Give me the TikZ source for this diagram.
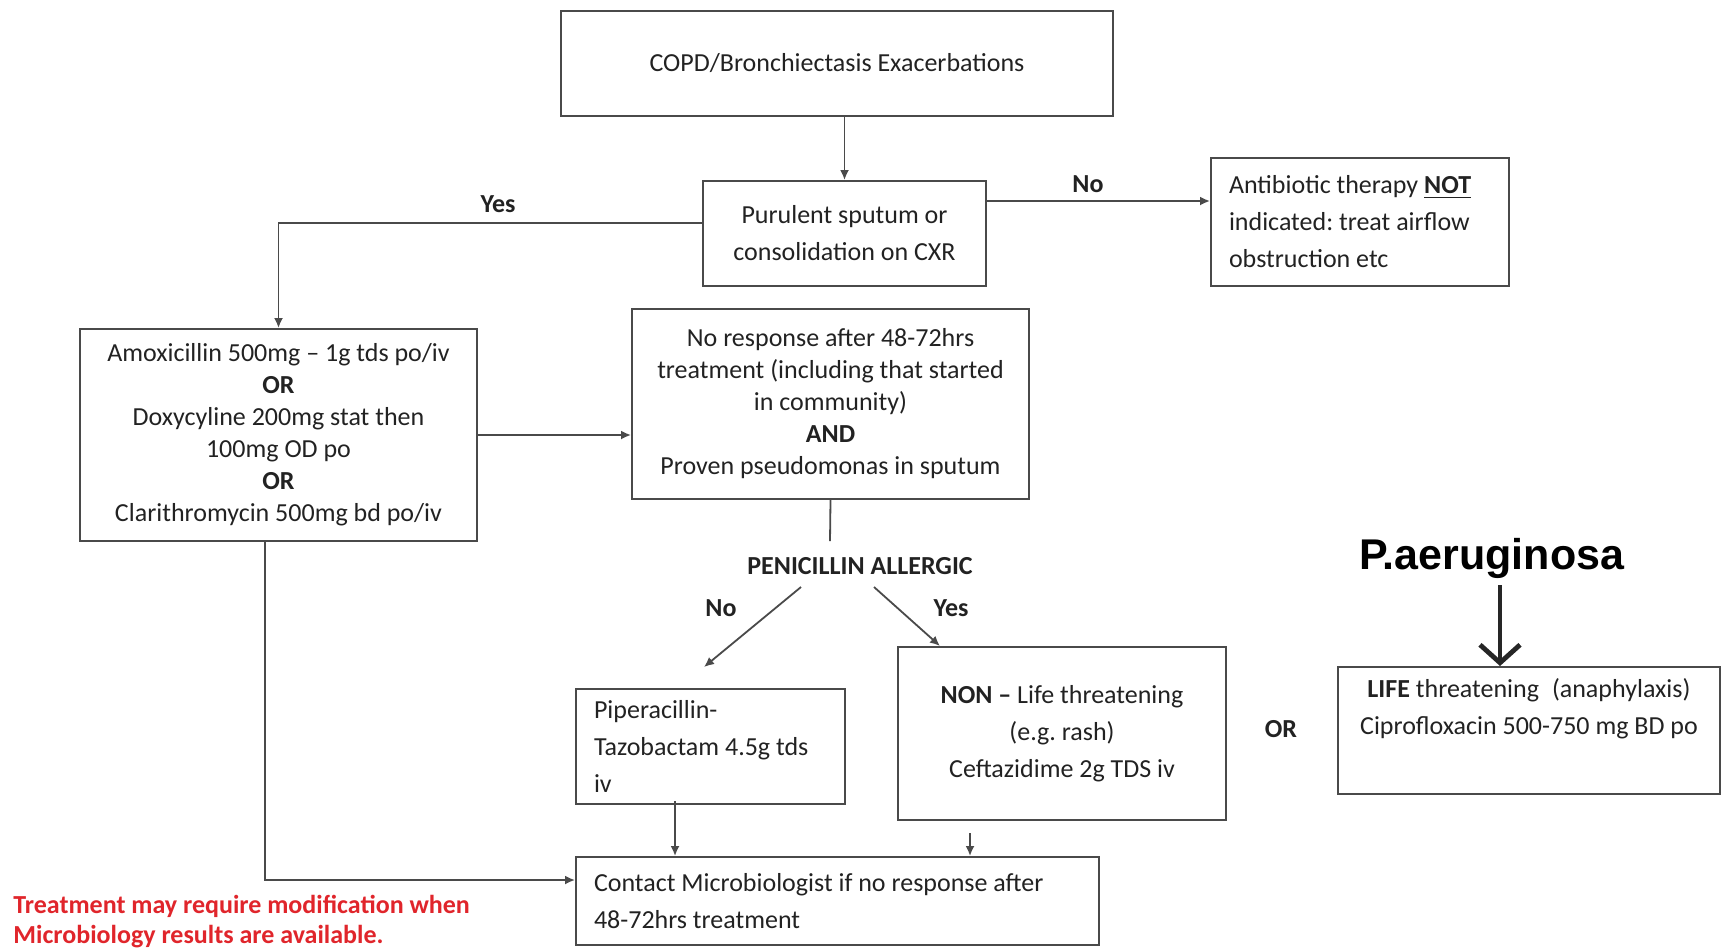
\documentclass[tikz,border=0pt]{standalone}
\usepackage{fontspec}
\setmainfont{Carlito}
\newfontfamily\pafont{Liberation Sans}
\usetikzlibrary{arrows.meta}
\definecolor{ln}{HTML}{4A4A4A}
\definecolor{tx}{HTML}{222222}
\definecolor{rd}{HTML}{E0252B}
\begin{document}
\frenchspacing
\begin{tikzpicture}[x=0.5pt,y=-0.5pt,
  box/.style={draw=ln, line width=1pt, rectangle, inner sep=0pt, text=tx, align=center},
  f16/.style={font=\fontsize{13}{16}\selectfont},
  f18/.style={font=\fontsize{13}{18.5}\selectfont},
  arr/.style={draw=ln, line width=0.9pt, -{Latex[length=5pt,width=4.5pt]}},
  conn/.style={draw=ln, line width=0.9pt},
  lbl/.style={font=\fontsize{13}{15}\selectfont\bfseries, text=tx, inner sep=0pt},
  bigarr/.style={draw=black!85, line width=2.4pt, -{Straight Barb[length=9pt,width=20pt]}}]
\useasboundingbox (0,0) rectangle (1723,948);

% boxes
\node[box,f16, minimum width=276pt, minimum height=52.5pt] (copd) at (837,63.5) {COPD/Bronchiectasis Exacerbations};
\node[box,f18, minimum width=141.5pt, minimum height=52.5pt] (pur) at (844.5,233.5) {Purulent sputum or\\consolidation on CXR};
\node[box,f18, minimum width=149pt, minimum height=64pt, text width=131pt, inner xsep=9pt, align=flush left] (ant) at (1360,222) {Antibiotic therapy \underline{\textbf{NOT}}\\indicated: treat airflow\\obstruction etc};
\node[box,f16, minimum width=198.5pt, minimum height=106pt] (amox) at (278.5,435) {Amoxicillin 500mg -- 1g tds po/iv\\\textbf{OR}\\Doxycyline 200mg stat then\\100mg OD po\\\textbf{OR}\\Clarithromycin 500mg bd po/iv};
\node[box,f16, minimum width=198.5pt, minimum height=95pt] (nr) at (830.5,404) {No response after 48-72hrs\\treatment (including that started\\in community)\\\textbf{AND}\\Proven pseudomonas in sputum};
\node[box,f18, minimum width=134.5pt, minimum height=57.5pt, text width=116.5pt, inner xsep=9pt, align=flush left] (pip) at (710.5,746.5) {Piperacillin-\\Tazobactam 4.5g tds\\iv};
\node[box,f18, minimum width=164pt, minimum height=86.5pt] (non) at (1062,733.5) {\textbf{NON --} Life threatening\\(e.g. rash)\\Ceftazidime 2g TDS iv};
\node[box,f18, minimum width=191pt, minimum height=63.5pt] (life) at (1529,730.5) {\textbf{LIFE} threatening\enspace(anaphylaxis)\\Ciprofloxacin 500-750 mg BD po\\\strut};
\node[box,f18, minimum width=261.5pt, minimum height=44pt, text width=243.5pt, inner xsep=9pt, align=flush left] (con) at (837.5,901) {Contact Microbiologist if no response after\\48-72hrs treatment};

% labels
\node[lbl] (yes1) at (498,204) {Yes};
\node[lbl] (no1) at (1088,184) {No};
\node[lbl] (pen) at (860,566) {PENICILLIN ALLERGIC};
\node[lbl] (no2) at (721,608) {No};
\node[lbl] (yes2) at (951,608) {Yes};
\node[lbl] (or) at (1281,729) {OR};
\node[font=\pafont\bfseries\fontsize{21.5}{24}\selectfont, inner sep=0pt, anchor=base] (pa) at (1492,569) {P.aeruginosa};
\node[font=\fontsize{13}{15}\selectfont\bfseries, text=rd, inner sep=0pt, anchor=west, align=left] (note) at (13,922) {Treatment may require modification when\\Microbiology results are available.};

% coordinates
\coordinate (yy) at (0,223);
\coordinate (ny) at (0,201);
\coordinate (penline) at (830,541);
\coordinate (noend) at (704,667);
\coordinate (yesend) at (940,646);
\coordinate (ax) at (265,0);
\coordinate (ay) at (0,880);
\coordinate (px) at (675,0);
\coordinate (nx) at (970,0);
\coordinate (bx) at (1500,0);

% connectors
\draw[arr] (copd.south -| pur.north) -- (pur.north);
\draw[arr] (pur.west |- yy) -| (amox.north);
\draw[arr] (pur.east |- ny) -- (ant.west |- ny);
\draw[arr] (amox.east) -- (amox.east -| nr.west);
\draw[conn] (nr.south) -- (penline);
\draw[arr] ([xshift=-29.5pt,yshift=-6pt]pen.south) -- (noend);
\draw[arr] ([xshift=7pt,yshift=-6pt]pen.south) -- (yesend);
\draw[arr] ([yshift=2pt]pip.south -| px) -- (con.north -| px);
\draw[arr] ([yshift=-6pt]non.south -| nx) -- (con.north -| nx);
\draw[arr] (amox.south -| ax) |- (con.west |- ay);
\draw[bigarr] ([yshift=-8pt]pa.base -| bx) -- (life.north -| bx);
\end{tikzpicture}
\end{document}
